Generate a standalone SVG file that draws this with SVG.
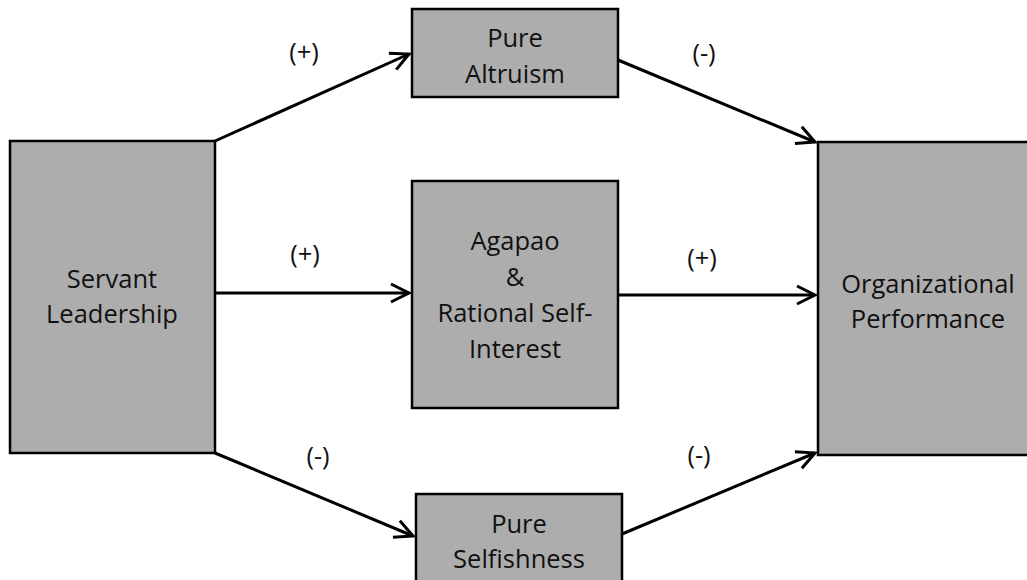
<svg xmlns="http://www.w3.org/2000/svg" width="1027" height="580" viewBox="0 0 1027 580">
<defs>
<style>
.box{fill:#adadad;stroke:#000;stroke-width:2.5}
.t{font-family:"Open Sans","Noto Sans",sans-serif;font-size:25.5px;fill:#111;text-anchor:middle}
.c{stroke:#000;stroke-width:3;fill:none;marker-end:url(#ah)}
</style>
<marker id="ah" markerWidth="12" markerHeight="12" refX="10" refY="6" orient="auto" markerUnits="userSpaceOnUse" viewBox="0 0 12 12" overflow="visible">
<path d="M-8,-3 L10,6 L-8,15" fill="none" stroke="#000" stroke-width="3" stroke-linejoin="miter"/>
</marker>
</defs>
<rect width="1027" height="580" fill="#fff"/>
<g id="connectors">
<line class="c" x1="215" y1="141" x2="409" y2="54"/>
<line class="c" x1="215" y1="293" x2="409" y2="293"/>
<line class="c" x1="618" y1="295" x2="815" y2="295"/>
<line class="c" x1="618" y1="60" x2="815" y2="142"/>
<line class="c" x1="215" y1="453" x2="413" y2="536"/>
<line class="c" x1="622" y1="534" x2="815" y2="453"/>
</g>
<g id="labels">
<text class="t" x="304" y="61">(+)</text>
<text class="t" x="704" y="62">(-)</text>
<text class="t" x="305" y="263">(+)</text>
<text class="t" x="702" y="267">(+)</text>
<text class="t" x="318" y="465">(-)</text>
<text class="t" x="699" y="464">(-)</text>
</g>
<g id="servant">
<rect class="box" x="10" y="141" width="205" height="312"/>
<text class="t" x="112" y="288">Servant</text>
<text class="t" x="112" y="323">Leadership</text>
</g>
<g id="altruism">
<rect class="box" x="412" y="9" width="206" height="88"/>
<text class="t" x="515" y="47">Pure</text>
<text class="t" x="515" y="83">Altruism</text>
</g>
<g id="agapao">
<rect class="box" x="412" y="181" width="206" height="227"/>
<text class="t" x="515" y="250">Agapao</text>
<text class="t" x="515" y="286">&amp;</text>
<text class="t" x="515" y="322">Rational Self-</text>
<text class="t" x="515" y="358">Interest</text>
</g>
<g id="selfishness">
<rect class="box" x="416" y="494" width="206" height="92"/>
<text class="t" x="519" y="533">Pure</text>
<text class="t" x="519" y="568">Selfishness</text>
</g>
<g id="performance">
<rect class="box" x="818" y="142" width="212" height="313"/>
<text class="t" x="928" y="293">Organizational</text>
<text class="t" x="928" y="328">Performance</text>
</g>
</svg>
